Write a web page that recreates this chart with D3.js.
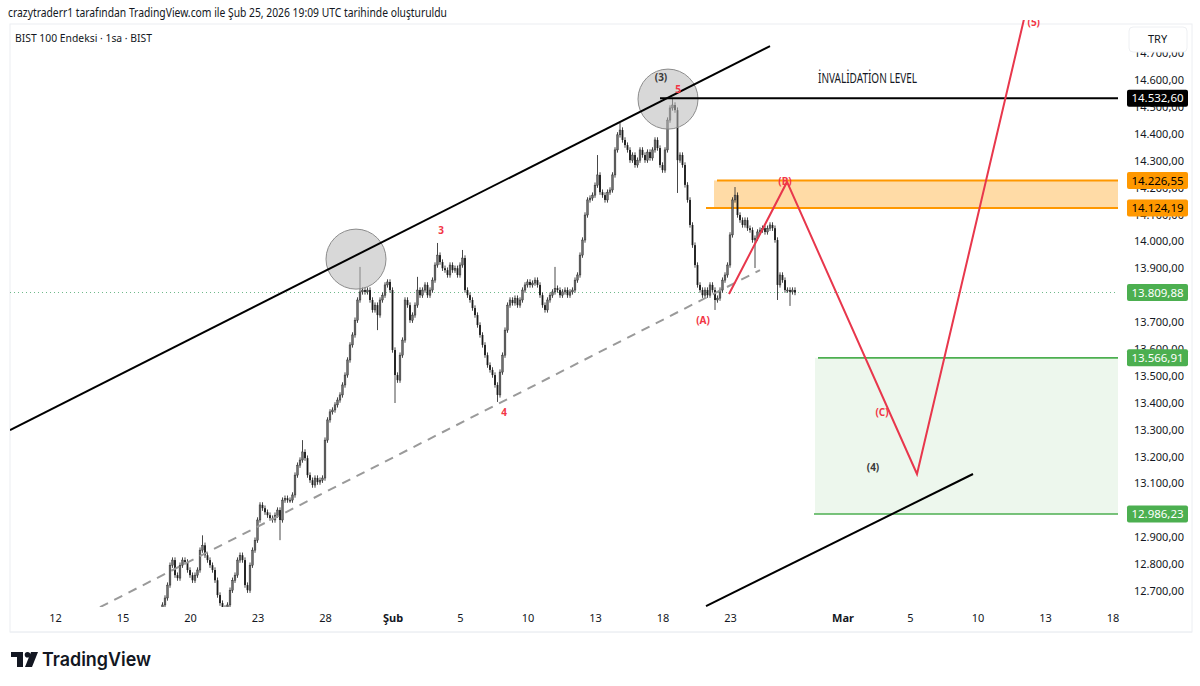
<!DOCTYPE html>
<html><head><meta charset="utf-8">
<script src="https://cdn.jsdelivr.net/npm/d3@7"></script>
<style>body{margin:0;background:#fff;} svg{display:block;font-family:"Noto Sans",sans-serif;}</style>
</head><body><svg id="c" width="1200" height="686"></svg>
<script>
// ---------- data ----------
const tickDays   = [0,3,6,9,12,15,18,21,24,27,30,35,38,41,44,47];
const tickLabels = ["12","15","20","23","28","Şub","5","10","13","18","23","Mar","5","10","13","18"];
const boldTicks  = ["Şub","Mar"];
const priceTicks = [12700,12800,12900,13000,13100,13200,13300,13400,13500,13600,13700,13800,13900,14000,14100,14200,14300,14400,14500,14600,14700];
const barsPerDay = 9;
const firstSlot  = 42;      // Jan 16, 16:00 bar
const firstOpen  = 12600;
const closes = [
  12622,12648,12674,
  12722,12796,12815,12759,12748,12796,12815,12808,12778,
  12759,12740,12759,12778,12852,12870,12833,12815,12796,
  12778,12740,12685,12655,12637,12622,12648,12703,12740,
  12759,12815,12833,12815,12722,12703,12796,12852,12889,
  12964,13020,13008,12993,12982,12971,12964,12982,13001,
  12964,13038,13045,13038,13038,13057,13131,13168,13187,
  13217,13194,13131,13112,13094,13120,13105,13112,13120,
  13261,13336,13366,13373,13392,13410,13429,13466,13503,
  13559,13615,13652,13707,13782,13812,13819,13812,13819,
  13782,13745,13763,13726,13782,13800,13838,13849,13819,
  13596,13503,13484,13577,13633,13782,13763,13707,13726,
  13763,13819,13800,13819,13838,13800,13819,13856,13912,
  13949,13923,13900,13893,13875,13912,13893,13900,13875,
  13912,13938,13819,13800,13782,13752,13726,13689,13652,
  13615,13577,13540,13522,13503,13466,13429,13514,13577,
  13670,13763,13782,13771,13789,13763,13782,13819,13838,
  13849,13838,13845,13856,13838,13800,13763,13745,13782,
  13800,13812,13826,13819,13800,13812,13819,13800,13812,
  13819,13856,13875,13949,14005,14098,14154,14161,14172,
  14209,14247,14183,14172,14154,14183,14191,14247,14340,
  14396,14414,14377,14358,14340,14302,14321,14284,14302,
  14340,14321,14302,14332,14310,14340,14377,14347,14284,
  14265,14340,14451,14496,14507,14488,14302,14321,14284,
  14210,14154,14061,13986,13912,13838,13819,13800,13819,
  13800,13838,13819,13782,13789,13819,13856,13875,13912,
  14024,14154,14172,14098,14079,14061,14079,14049,14042,
  14005,14012,14035,14042,14049,14035,14049,14061,14049,
  14005,13838,13875,13856,13819,13819,13812,13819,13809.88
];
// [day, hour-bar, price]
const spikeHighs = [[6,5,12907],[11,0,13261],[13,5,13905],[16,1,13868],[17,0,13994],[18,1,13968],[22,2,13905],[24,1,14321],[25,1,14440],[27,4,14532.6],[30,2,14202]];
const spikeLows  = [[10,0,12889],[14,3,13670],[15,1,13399],[19,6,13403],[27,6,14180],[29,3,13745],[31,1,13901],[32,1,13782],[32,6,13760]];

const invalidation = 14532.60;
const zoneB      = {low:14124.19, high:14226.55, start:263.6, topStart:264.8, botStart:260.4};
const zoneTarget = {low:12986.23, high:13566.91, start:304, topStart:305.2, botStart:303.6};
const lastPrice  = 13809.88;
const invalidationStart = 242;

// drawings, [slot, price]
const upperChannel = [[-18,13298],[286,14726]];
const lowerDashed  = [[18,12640],[282,13893]];
const lowerChannel = [[260.4,12644],[367.2,13135]];
const projection   = [[269.6,13804],[292.8,14221],[344.8,13135],[388,14842]];
const circles      = [[120.4,13934],[245.2,14529]];
const waveLabels = [
  {t:"3",  s:154.4, p:14042, red:true},
  {t:"4",  s:179.6, p:13362, red:true},
  {t:"5",  s:249.2, p:14566, red:true},
  {t:"(A)",s:259.2, p:13704, red:true},
  {t:"(B)",s:292,   p:14221, red:true},
  {t:"(C)",s:330.8, p:13362, red:true},
  {t:"(5)",s:391.5, p:14815, red:true},
  {t:"(3)",s:242.4, p:14611, red:false},
  {t:"(4)",s:327.2, p:13161, red:false}
];
const invalidationText = {t:"İNVALİDATİON LEVEL", s:305.2, p:14607};

// ---------- layout ----------
const svg = d3.select("#c");
const pane = {l:10, r:1118, t:24, b:607};
const x = d3.scaleLinear().domain([0,315]).range([55,842.5]);
const y = d3.scaleLinear().domain([12700,14600]).range([591,80]);
const RED = "#f23645", ORANGE = "#ff9800", GREEN = "#4caf50";
const trFmt = d3.formatLocale({decimal:",", thousands:".", grouping:[3], currency:["",""]}).format(",.2f");

svg.append("rect").attr("x",0).attr("y",0).attr("width",1200).attr("height",686).attr("fill","#fff");
svg.append("rect").attr("x",pane.l).attr("y",pane.t).attr("width",1192-pane.l).attr("height",632-pane.t)
  .attr("fill","none").attr("stroke","#eceef2");

svg.append("defs").append("clipPath").attr("id","pc").append("rect")
  .attr("x",pane.l).attr("y",pane.t-4).attr("width",pane.r-pane.l).attr("height",pane.b-pane.t+4);
const g = svg.append("g").attr("clip-path","url(#pc)");

// zones
function zone(z, col, op, lw){
  g.append("rect").attr("x",x(z.start)).attr("y",y(z.high)).attr("width",pane.r-x(z.start))
    .attr("height",y(z.low)-y(z.high)).attr("fill",col).attr("fill-opacity",op);
  g.append("line").attr("x1",x(z.topStart)).attr("x2",pane.r).attr("y1",y(z.high)).attr("y2",y(z.high)).attr("stroke",col).attr("stroke-width",lw);
  g.append("line").attr("x1",x(z.botStart)).attr("x2",pane.r).attr("y1",y(z.low)).attr("y2",y(z.low)).attr("stroke",col).attr("stroke-width",lw);
}
zone(zoneTarget, GREEN, 0.1, 1.6);
zone(zoneB, ORANGE, 0.35, 2);

// last price dotted line
g.append("line").attr("x1",pane.l).attr("x2",pane.r).attr("y1",y(lastPrice)).attr("y2",y(lastPrice))
  .attr("stroke","#6fb98a").attr("stroke-width",1).attr("stroke-dasharray","1,3");

// candles
const hiMap = new Map(spikeHighs.map(d=>[d[0]*barsPerDay+d[1], d[2]]));
const loMap = new Map(spikeLows.map(d=>[d[0]*barsPerDay+d[1], d[2]]));
const bars = closes.map((c,i)=>{
  const o = i===0 ? firstOpen : closes[i-1];
  const s = firstSlot + i;
  const h = hiMap.has(s) ? hiMap.get(s) : Math.max(o,c)+10;
  const l = loMap.has(s) ? loMap.get(s) : Math.min(o,c)-10;
  return {s,o,c,h,l};
});
const cg = g.append("g");
cg.selectAll("line.w").data(bars).join("line").attr("class","w")
  .attr("x1",d=>x(d.s)).attr("x2",d=>x(d.s)).attr("y1",d=>y(d.h)).attr("y2",d=>y(d.l))
  .attr("stroke","#333").attr("stroke-width",0.9);
cg.selectAll("rect").data(bars).join("rect")
  .attr("x",d=>x(d.s)-0.9).attr("width",1.8)
  .attr("y",d=>y(Math.max(d.o,d.c))).attr("height",d=>Math.max(1,Math.abs(y(d.o)-y(d.c))))
  .attr("fill",d=>d.c>=d.o?"#6e6e6e":"#1a1a1a").attr("stroke",d=>d.c>=d.o?"#222":"none").attr("stroke-width",0.4);

// circles
g.selectAll("circle.z").data(circles).join("circle").attr("class","z")
  .attr("cx",d=>x(d[0])).attr("cy",d=>y(d[1])).attr("r",30)
  .attr("fill","#b8b8b8").attr("fill-opacity",0.55).attr("stroke","#8c8c8c").attr("stroke-width",1);

// lines
const line = d3.line().x(d=>x(d[0])).y(d=>y(d[1]));
g.append("path").attr("d",line(upperChannel)).attr("stroke","#000").attr("stroke-width",2).attr("fill","none");
g.append("path").attr("d",line(lowerDashed)).attr("stroke","#9a9a9a").attr("stroke-width",2).attr("stroke-dasharray","9,7").attr("fill","none");
g.append("path").attr("d",line(lowerChannel)).attr("stroke","#000").attr("stroke-width",2).attr("fill","none");
g.append("line").attr("x1",x(invalidationStart)).attr("x2",pane.r).attr("y1",y(invalidation)).attr("y2",y(invalidation))
  .attr("stroke","#000").attr("stroke-width",2);
g.append("path").attr("d",line(projection)).attr("stroke","#e8374c").attr("stroke-width",2).attr("fill","none");

// labels
g.selectAll("text.wl").data(waveLabels).join("text").attr("class","wl")
  .attr("x",d=>x(d.s)).attr("y",d=>y(d.p)).attr("dy","0.35em").attr("text-anchor","middle")
  .attr("font-size",10).attr("font-weight",700)
  .attr("fill",d=>d.red?RED:"#3a3a3a").text(d=>d.t);
svg.append("text").attr("x",x(invalidationText.s)).attr("y",y(invalidationText.p)).attr("dy","0.35em")
  .attr("font-size",14.5).attr("fill","#131722").attr("textLength",99).attr("lengthAdjust","spacingAndGlyphs")
  .text(invalidationText.t);

// price label boxes (on the axis)
const boxes = [
  {p:invalidation, bg:"#000", fg:"#fff"},
  {p:zoneB.high, bg:ORANGE, fg:"#000"},
  {p:zoneB.low, bg:ORANGE, fg:"#000"},
  {p:lastPrice, bg:GREEN, fg:"#fff"},
  {p:zoneTarget.high, bg:GREEN, fg:"#fff"},
  {p:zoneTarget.low, bg:GREEN, fg:"#fff"}
];

// axes (tick labels fully hidden by a price box are skipped)
const shownTicks = priceTicks.filter(t => !boxes.some(b => Math.abs(y(b.p)-y(t)) < 4));
const ya = d3.axisRight(y).tickValues(shownTicks).tickFormat(trFmt).tickSize(0).tickPadding(0);
const yg = svg.append("g").attr("transform","translate(1134,0)").call(ya);
yg.select(".domain").remove();
yg.selectAll("text").attr("font-size",11).attr("fill","#131722").attr("font-family","Noto Sans");

const xa = d3.axisBottom(x).tickValues(tickDays.map(d=>d*barsPerDay))
  .tickFormat((d,i)=>tickLabels[i]).tickSize(0).tickPadding(7);
const xg = svg.append("g").attr("transform",`translate(0,${pane.b})`).call(xa);
xg.select(".domain").remove();
xg.selectAll("text").attr("font-size",11).attr("fill","#131722").attr("font-family","Noto Sans")
  .attr("font-weight",(d,i)=>boldTicks.includes(tickLabels[i])?700:400);
svg.append("line").attr("x1",pane.l).attr("x2",1192).attr("y1",632).attr("y2",632).attr("stroke","#eceef2");

const bg = svg.selectAll("g.box").data(boxes).join("g").attr("class","box")
  .attr("transform",d=>`translate(1127,${y(d.p)})`);
bg.append("rect").attr("x",0).attr("y",-8.5).attr("width",61).attr("height",17).attr("rx",2).attr("fill",d=>d.bg);
bg.append("text").attr("x",30.5).attr("dy","0.36em").attr("text-anchor","middle").attr("font-size",11.5)
  .attr("fill",d=>d.fg).text(d=>trFmt(d.p));

// TRY box
svg.append("rect").attr("x",1129).attr("y",27).attr("width",58).attr("height",25).attr("rx",4)
  .attr("fill","#fff").attr("stroke","#eef0f3");
svg.append("text").attr("x",1148).attr("y",39).attr("dy","0.35em").attr("font-size",11).attr("fill","#131722").text("TRY");

// header
svg.append("text").attr("x",8).attr("y",13).attr("dy","0.35em").attr("font-size",12).attr("fill","#131722")
  .attr("textLength",439).attr("lengthAdjust","spacingAndGlyphs")
  .text("crazytraderr1 tarafından TradingView.com ile Şub 25, 2026 19:09 UTC tarihinde oluşturuldu");
svg.append("text").attr("x",15).attr("y",38).attr("dy","0.35em").attr("font-size",11).attr("fill","#131722")
  .attr("textLength",137).attr("lengthAdjust","spacingAndGlyphs")
  .text("BIST 100 Endeksi · 1sa · BIST");

// footer logo
const lg = svg.append("g").attr("fill","#131722");
lg.append("path").attr("d","M11,652 H23 V667 H17 V657 H11 Z");
lg.append("circle").attr("cx",27.5).attr("cy",654.8).attr("r",2.8);
lg.append("path").attr("d","M31,652 H38 L32,667 H25 Z");
svg.append("text").attr("x",42).attr("y",666).attr("font-family","Inter").attr("font-size",19).attr("font-weight",600)
  .attr("fill","#131722").attr("textLength",109).attr("lengthAdjust","spacingAndGlyphs").text("TradingView");
</script></body></html>
